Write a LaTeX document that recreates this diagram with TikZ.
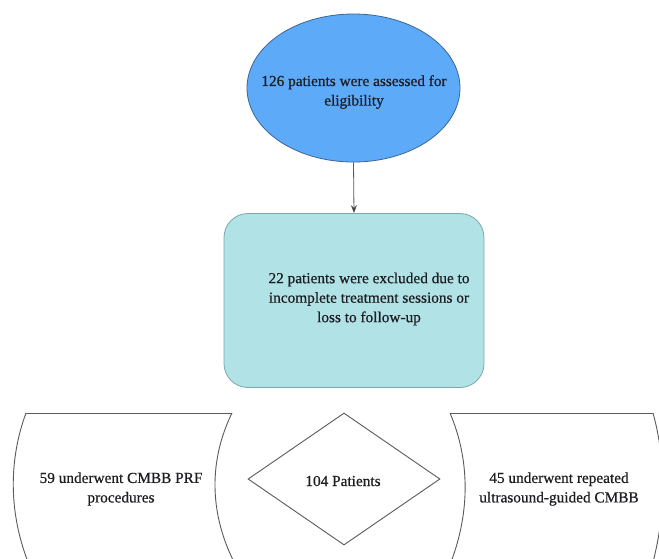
\documentclass[tikz,border=0pt]{standalone}
\usepackage{fontspec}
\setmainfont{Liberation Serif}[FakeBold=0.6]
\usetikzlibrary{shapes.geometric,arrows.meta}
\definecolor{ellfill}{RGB}{92,170,248}
\definecolor{ellline}{RGB}{62,100,150}
\definecolor{rectfill}{RGB}{176,226,230}
\definecolor{rectline}{RGB}{120,170,172}
\definecolor{txt}{RGB}{30,30,34}
\definecolor{shapeline}{RGB}{90,90,90}
\tikzset{
  x=1pt,y=-1pt,
  lbl/.style={font=\fontsize{15.3}{19.5}\selectfont, text=txt, align=center, inner sep=0pt},
  outl/.style={draw=shapeline, line width=0.9pt},
}
\begin{document}
\begin{tikzpicture}
\useasboundingbox (0,0) rectangle (659,558);
\fill[white] (0,0) rectangle (659,558);
% top ellipse
\node[ellipse, draw=ellline, line width=0.8pt, fill=ellfill, minimum width=213pt, minimum height=148pt, inner sep=0pt] (elig) at (353.5,88) {};
\node[lbl] (eligtext) at (354,92) {126 patients were assessed for\\eligibility};
% excluded box
\node[draw=rectline, line width=0.8pt, fill=rectfill, rounded corners=24pt, minimum width=260pt, minimum height=174pt, inner sep=0pt] (excl) at (354,300.5) {};
\node[lbl] (excltext) at (369,299) {22 patients were excluded due to\\incomplete treatment sessions or\\loss to follow-up};
\draw[draw=gray!70!black, line width=0.8pt, -{Stealth[length=8pt,width=6pt,fill=black]}] (elig.south) -- (excl.north);
% bottom shapes
\begin{scope}
\clip (0,0) rectangle (659,558);
\draw[outl] (26,413) .. controls (8.7,460) and (8.7,512) .. (28,562);
\draw[outl] (26,413) -- (232,413);
\draw[outl] (232,413) .. controls (209,460) and (209,512) .. (234,562);
\draw[outl] (653,413) -- (450,413);
\draw[outl] (450,413) .. controls (470,460) and (470,512) .. (451,562);
\draw[outl] (653,413) .. controls (666,460) and (666,512) .. (653,562);
\end{scope}
\node[lbl] (prf) at (121,489) {59 underwent CMBB PRF\\procedures};
\node[diamond, outl, aspect=1.45, minimum width=192pt, minimum height=132pt, inner sep=0pt] (total) at (344,479) {};
\node[lbl] (totaltext) at (343,481) {104 Patients};
\node[lbl] (rep) at (559,489) {45 underwent repeated\\ultrasound-guided CMBB};
\end{tikzpicture}
\end{document}
